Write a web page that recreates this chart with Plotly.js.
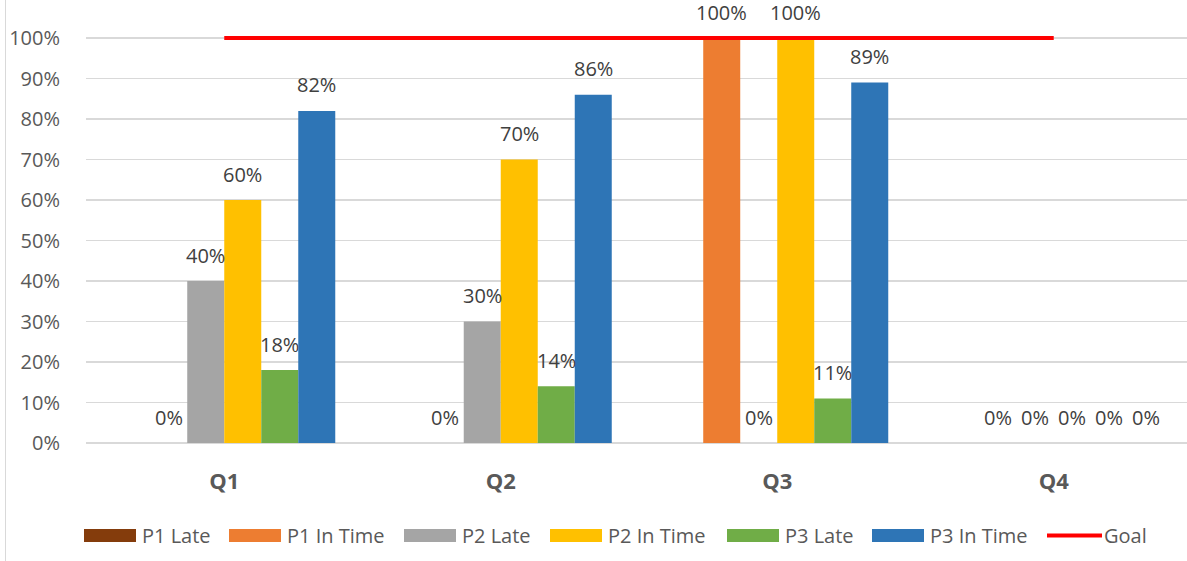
<!DOCTYPE html>
<html>
<head>
<meta charset="utf-8">
<script src="https://cdn.plot.ly/plotly-3.0.1.min.js"></script>
<style>html,body{margin:0;padding:0;background:#fff;}#chart{width:1187px;height:561px;}</style>
</head>
<body>
<div id="chart"></div>
<script>
const categories = ["Q1", "Q2", "Q3", "Q4"];
const seriesNames = ["P1 Late", "P1 In Time", "P2 Late", "P2 In Time", "P3 Late", "P3 In Time"];
const p1Late   = [0, 0, 0, 0];
const p1InTime = [0, 0, 1.00, 0];
const p2Late   = [0.40, 0.30, 0, 0];
const p2InTime = [0.60, 0.70, 1.00, 0];
const p3Late   = [0.18, 0.14, 0.11, 0];
const p3InTime = [0.82, 0.86, 0.89, 0];
const goal     = [1, 1, 1, 1];
const goalName = "Goal";
const yTickVals = [0, 0.1, 0.2, 0.3, 0.4, 0.5, 0.6, 0.7, 0.8, 0.9, 1.0];

const seriesValues = [p1Late, p1InTime, p2Late, p2InTime, p3Late, p3InTime];
const labelled = [false, true, true, true, true, true];
const colors = ["#843C0C", "#ED7D31", "#A5A5A5", "#FFC000", "#70AD47", "#2E75B6"];

const FONT = "Open Sans, Noto Sans, sans-serif";
const L = 86, R = 0, T = 35, B = 118, W = 1187, H = 561;
const plotW = W - L - R, plotH = H - T - B;
const unitPx = 405; // pixels for 0..100%
const yTop = plotH / unitPx;
const bargap = 0.197;
const barW = (1 - bargap) / seriesNames.length;

function px2x(px) { return (px - L) / plotW; }
function py2y(py) { return (H - B - py) / plotH; }

const traces = seriesNames.map((name, i) => ({
  type: "bar",
  name: name,
  x: categories,
  y: seriesValues[i],
  marker: { color: colors[i] },
  hoverinfo: "name+y",
  showlegend: false,
  cliponaxis: false
}));
traces.push({
  type: "scatter",
  mode: "lines",
  name: goalName,
  x: categories,
  y: goal,
  line: { color: "#FF0000", width: 4 },
  showlegend: false,
  cliponaxis: false
});

const annotations = [];
seriesValues.forEach((vals, i) => {
  if (!labelled[i]) return;
  vals.forEach((v, j) => {
    annotations.push({
      xref: "x", yref: "y",
      x: j + (i - (seriesNames.length - 1) / 2) * barW,
      y: v,
      yshift: 26,
      text: Math.round(v * 100) + "%",
      showarrow: false,
      xanchor: "center", yanchor: "middle",
      borderpad: 0,
      font: { family: FONT, size: 20, color: "#404040" }
    });
  });
});

// custom legend
const legendItems = [
  { name: seriesNames[0], color: colors[0], sx: 84, tx: 140 },
  { name: seriesNames[1], color: colors[1], sx: 229, tx: 285 },
  { name: seriesNames[2], color: colors[2], sx: 404, tx: 460 },
  { name: seriesNames[3], color: colors[3], sx: 550, tx: 606 },
  { name: seriesNames[4], color: colors[4], sx: 727, tx: 783 },
  { name: seriesNames[5], color: colors[5], sx: 872, tx: 928 }
];
const shapes = [];
legendItems.forEach(it => {
  shapes.push({
    type: "rect", xref: "paper", yref: "paper",
    x0: px2x(it.sx), x1: px2x(it.sx + 52),
    y0: py2y(542), y1: py2y(529),
    fillcolor: it.color, line: { width: 0 }
  });
  annotations.push({
    xref: "paper", yref: "paper", x: px2x(it.tx), y: py2y(535.5),
    xanchor: "left", yanchor: "middle", showarrow: false, text: it.name,
    font: { family: FONT, size: 20, color: "#595959" }
  });
});
shapes.push({
  type: "line", xref: "paper", yref: "paper",
  x0: px2x(1047), x1: px2x(1102), y0: py2y(535.5), y1: py2y(535.5),
  line: { color: "#FF0000", width: 4 }
});
annotations.push({
  xref: "paper", yref: "paper", x: px2x(1102), y: py2y(535.5),
  xanchor: "left", yanchor: "middle", showarrow: false, text: goalName,
  font: { family: FONT, size: 20, color: "#595959" }
});
// chart border (left)
shapes.push({
  type: "line", xref: "paper", yref: "paper",
  x0: px2x(5.5), x1: px2x(5.5), y0: py2y(561), y1: py2y(0),
  line: { color: "#D9D9D9", width: 1 }
});

const layout = {
  width: W, height: H,
  margin: { l: L, r: R, t: T, b: B, pad: 0 },
  paper_bgcolor: "#FFFFFF", plot_bgcolor: "#FFFFFF",
  barmode: "group", bargap: bargap, bargroupgap: 0,
  showlegend: false,
  font: { family: FONT, color: "#595959" },
  xaxis: {
    type: "category",
    range: [-0.5, 3.482],
    showgrid: false, zeroline: false, showline: false,
    ticks: "outside", ticklen: 19, tickcolor: "rgba(0,0,0,0)",
    tickfont: { family: FONT, size: 22, color: "#595959", weight: "bold" },
    fixedrange: true
  },
  yaxis: {
    range: [0, yTop],
    tickvals: yTickVals,
    tickformat: ".0%",
    showgrid: true, gridcolor: "#D9D9D9", gridwidth: 1.3,
    zeroline: true, zerolinecolor: "#D9D9D9", zerolinewidth: 1.3,
    showline: false,
    ticks: "outside", ticklen: 21, tickcolor: "rgba(0,0,0,0)",
    tickfont: { family: FONT, size: 20, color: "#595959" },
    fixedrange: true
  },
  annotations: annotations,
  shapes: shapes
};

Plotly.newPlot("chart", traces, layout, { displayModeBar: false, staticPlot: true });
</script>
</body>
</html>
